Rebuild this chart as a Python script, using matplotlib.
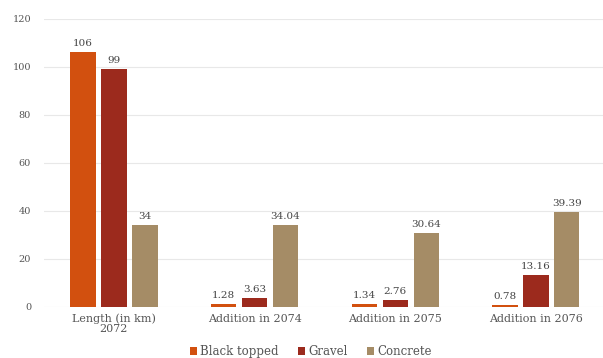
import matplotlib.pyplot as plt
import numpy as np

# Road length data (km)
categories = ['Length (in km)\n2072', 'Addition in 2074', 'Addition in 2075', 'Addition in 2076']
black_topped = [106, 1.28, 1.34, 0.78]
gravel = [99, 3.63, 2.76, 13.16]
concrete = [34, 34.04, 30.64, 39.39]
labels_bt = ['106', '1.28', '1.34', '0.78']
labels_gr = ['99', '3.63', '2.76', '13.16']
labels_co = ['34', '34.04', '30.64', '39.39']

plt.rcParams['font.family'] = ['DejaVu Serif']
txt = '#555555'

fig = plt.figure(figsize=(6.03, 3.58), dpi=100)
ax = fig.add_axes([0.0723, 0.1425, 0.933, 0.805])

x = np.arange(len(categories))
w = 0.18
step = 0.22
series = [(black_topped, labels_bt, '#D2500F', 'Black topped'),
          (gravel, labels_gr, '#9C2A1D', 'Gravel'),
          (concrete, labels_co, '#A58C66', 'Concrete')]
for i, (vals, labs, col, name) in enumerate(series):
    bars = ax.bar(x + (i - 1) * step, vals, w, color=col, label=name, zorder=3)
    ax.bar_label(bars, labels=labs, padding=3, fontsize=7.5, color='#444444')

ax.set_ylim(0, 120)
ax.set_xlim(-0.5, 3.5)
ax.set_yticks(range(0, 121, 20))
ax.set_xticks(x)
ax.set_xticklabels(categories, fontsize=8, color=txt, linespacing=0.9)
ax.tick_params(axis='y', labelsize=7, colors=txt, length=0, pad=9)
ax.tick_params(axis='x', length=0, pad=5)
ax.grid(axis='y', color='#e8e8e8', linewidth=0.8, zorder=0)
for s in ax.spines.values():
    s.set_visible(False)

ax.legend(loc='upper center', bbox_to_anchor=(0.475, -0.095), ncol=3, frameon=False,
          fontsize=8.5, handlelength=0.6, handleheight=0.6, handletextpad=0.3,
          columnspacing=1.6, labelcolor=txt)

fig.savefig('out.png', dpi=100)
